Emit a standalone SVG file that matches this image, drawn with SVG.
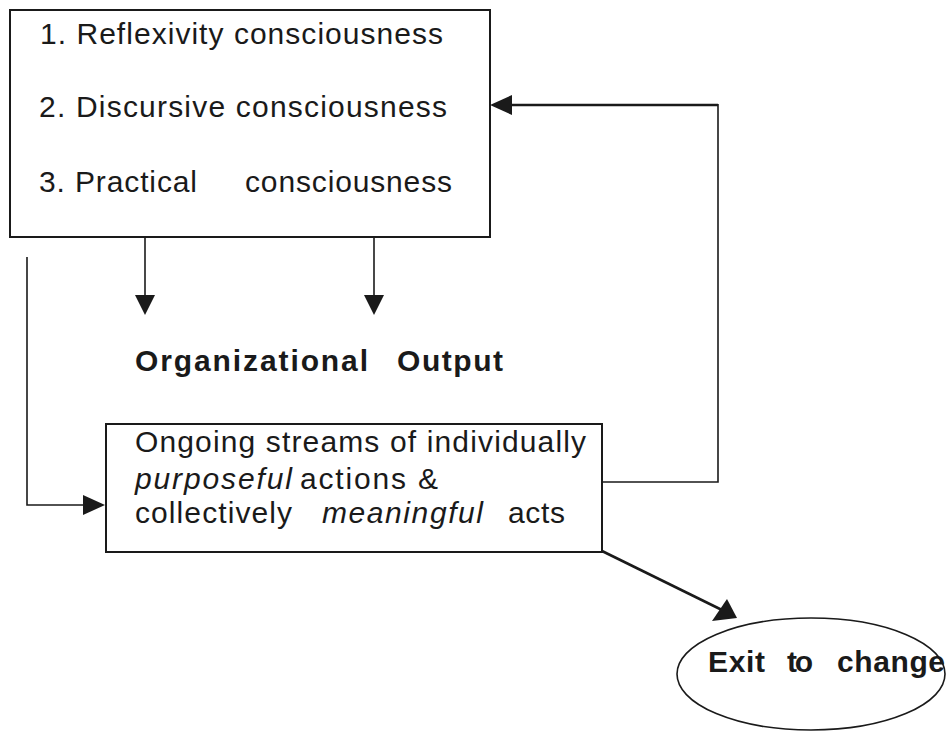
<svg xmlns="http://www.w3.org/2000/svg" width="947" height="732" viewBox="0 0 947 732">
<style>
  .box { fill: #ffffff; stroke: #1a1a1a; stroke-width: 2; }
  .t { font-family: "Liberation Sans", Arial, Helvetica, sans-serif; font-size: 30px; fill: #1a1a1a; }
  .b { font-weight: bold; }
  .i { font-style: italic; }
  .ln { fill: none; stroke: #1a1a1a; stroke-width: 1.6; }
  .thick { stroke-width: 2.6; }
  .ah { fill: #1a1a1a; stroke: none; }
</style>
<rect width="947" height="732" fill="#ffffff"/>
<g id="connectors">
  <line class="ln" x1="145" y1="237" x2="145" y2="296"/>
  <polygon class="ah" points="135,295 155,295 145,315"/>
  <line class="ln" x1="374" y1="237" x2="374" y2="296"/>
  <polygon class="ah" points="364,295 384,295 374,315"/>
  <polyline class="ln" points="27,257 27,505 86,505"/>
  <polygon class="ah" points="83,495 83,515 105,505"/>
  <polyline class="ln" points="602,482 718,482 718,104"/>
  <line class="ln thick" x1="718" y1="105" x2="510" y2="105"/>
  <polygon class="ah" points="512,95 512,115 490,105"/>
  <line class="ln thick" x1="602" y1="551" x2="722" y2="610"/>
  <polygon class="ah" points="712,621 727,599 737,618"/>
</g>
<g id="consciousness">
  <rect class="box" x="10" y="10" width="480" height="227"/>
  <text class="t" x="40" y="44" textLength="403" lengthAdjust="spacing">1. Reflexivity consciousness</text>
  <text class="t" x="39" y="117" textLength="408" lengthAdjust="spacing">2. Discursive consciousness</text>
  <text class="t" x="39" y="192" textLength="158" lengthAdjust="spacing">3. Practical</text>
  <text class="t" x="245" y="192" textLength="207" lengthAdjust="spacing">consciousness</text>
</g>
<g id="output">
  <text class="t b" x="135" y="371" textLength="233" lengthAdjust="spacing">Organizational</text>
  <text class="t b" x="397" y="371" textLength="106" lengthAdjust="spacing">Output</text>
</g>
<g id="streams">
  <rect class="box" x="106" y="424" width="496" height="128"/>
  <text class="t" x="135" y="452" textLength="451" lengthAdjust="spacing">Ongoing streams of individually</text>
  <text class="t i" x="135" y="489" textLength="157" lengthAdjust="spacing">purposeful</text>
  <text class="t" x="300" y="489" textLength="138" lengthAdjust="spacing">actions &amp;</text>
  <text class="t" x="135" y="523" textLength="157" lengthAdjust="spacing">collectively</text>
  <text class="t i" x="322" y="523" textLength="161" lengthAdjust="spacing">meaningful</text>
  <text class="t" x="508" y="523" textLength="57" lengthAdjust="spacing">acts</text>
</g>
<g id="exit">
  <ellipse cx="811" cy="674" rx="134" ry="56" fill="none" stroke="#1a1a1a" stroke-width="1.6"/>
  <text class="t b" x="708" y="672" textLength="57" lengthAdjust="spacing">Exit</text>
  <text class="t b" x="787" y="672" textLength="26" lengthAdjust="spacing">to</text>
  <text class="t b" x="837" y="672" textLength="108" lengthAdjust="spacing">change</text>
</g>
</svg>
